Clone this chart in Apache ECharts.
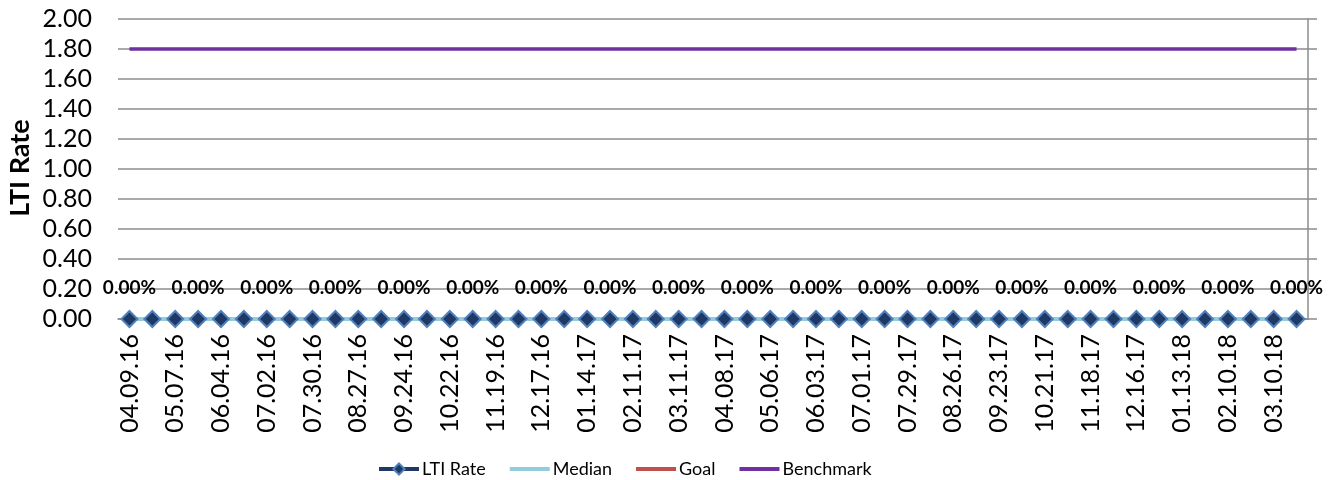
<!DOCTYPE html>
<html><head><meta charset="utf-8">
<script src="https://cdn.jsdelivr.net/npm/echarts@6/dist/echarts.min.js"></script>
<style>html,body{margin:0;padding:0;background:#fff}#c{width:1334px;height:480px}</style>
</head><body><div id="c"></div>
<script>
var categories = ['04.09.16','04.23.16','05.07.16','05.21.16','06.04.16','06.18.16','07.02.16','07.16.16','07.30.16','08.13.16','08.27.16','09.10.16','09.24.16','10.08.16','10.22.16','11.05.16','11.19.16','12.03.16','12.17.16','12.31.16','01.14.17','01.28.17','02.11.17','02.25.17','03.11.17','03.25.17','04.08.17','04.22.17','05.06.17','05.20.17','06.03.17','06.17.17','07.01.17','07.15.17','07.29.17','08.12.17','08.26.17','09.09.17','09.23.17','10.07.17','10.21.17','11.04.17','11.18.17','12.02.17','12.16.17','12.30.17','01.13.18','01.27.18','02.10.18','02.24.18','03.10.18','03.24.18'];
var ltiRate = [0,0,0,0,0,0,0,0,0,0,0,0,0,0,0,0,0,0,0,0,0,0,0,0,0,0,0,0,0,0,0,0,0,0,0,0,0,0,0,0,0,0,0,0,0,0,0,0,0,0,0,0];
var median = [0,0,0,0,0,0,0,0,0,0,0,0,0,0,0,0,0,0,0,0,0,0,0,0,0,0,0,0,0,0,0,0,0,0,0,0,0,0,0,0,0,0,0,0,0,0,0,0,0,0,0,0];
var goal = [];
var benchmark = [1.8,1.8,1.8,1.8,1.8,1.8,1.8,1.8,1.8,1.8,1.8,1.8,1.8,1.8,1.8,1.8,1.8,1.8,1.8,1.8,1.8,1.8,1.8,1.8,1.8,1.8,1.8,1.8,1.8,1.8,1.8,1.8,1.8,1.8,1.8,1.8,1.8,1.8,1.8,1.8,1.8,1.8,1.8,1.8,1.8,1.8,1.8,1.8,1.8,1.8,1.8,1.8];
var yTicks = {min: 0, max: 2, interval: 0.2};
var labelEvery = 3;

var FONT = 'Lato';
var GRID = '#8c8c8c';
var chart = echarts.init(document.getElementById('c'), null, {renderer: 'canvas'});
chart.setOption({
  animation: false,
  textStyle: {fontFamily: FONT},
  grid: {left: 118, right: 26, top: 19, bottom: 161, containLabel: false},
  graphic: [{
    type: 'text', x: 20, y: 168, rotation: Math.PI / 2,
    style: {text: 'LTI Rate', fontFamily: FONT, fontWeight: 'bold', fontSize: 27, fill: '#000', align: 'center', verticalAlign: 'middle'}
  }],
  legend: {
    left: 377, top: 460, padding: 0, itemWidth: 40, itemHeight: 14, itemGap: 22,
    textStyle: {fontFamily: FONT, fontSize: 18, color: '#000', padding: [0, 0, 0, -2]},
    data: [
      {name: 'LTI Rate', lineStyle: {width: 4}},
      {name: 'Median', itemStyle: {opacity: 0}, lineStyle: {width: 4}},
      {name: 'Goal', itemStyle: {opacity: 0}, lineStyle: {width: 4}},
      {name: 'Benchmark', itemStyle: {opacity: 0}, lineStyle: {width: 4}}
    ]
  },
  xAxis: {
    type: 'category', data: categories, boundaryGap: true,
    axisLine: {show: true, lineStyle: {color: GRID, width: 1.5}},
    axisTick: {show: false},
    axisLabel: {interval: 1, rotate: 90, margin: 15, fontFamily: FONT, fontSize: 25, color: '#000'}
  },
  yAxis: [{
    type: 'value', position: 'left', min: yTicks.min, max: yTicks.max, interval: yTicks.interval,
    axisLine: {show: false}, axisTick: {show: false},
    axisLabel: {margin: 26, fontFamily: FONT, fontSize: 25, color: '#000', formatter: function (v) { return v.toFixed(2); }},
    splitLine: {show: true, lineStyle: {color: GRID, width: 1.5}}
  }, {
    type: 'value', position: 'right', min: yTicks.min, max: yTicks.max, interval: yTicks.interval,
    axisLine: {show: true, lineStyle: {color: GRID, width: 1.5}},
    axisTick: {show: true, inside: false, length: 9, lineStyle: {color: GRID, width: 1.5}},
    axisLabel: {show: false}, splitLine: {show: false}
  }],
  series: [{
    name: 'LTI Rate', type: 'line', data: ltiRate, yAxisIndex: 0,
    symbol: 'diamond', symbolSize: 16, showAllSymbol: true,
    lineStyle: {color: '#1F3864', width: 2.5},
    itemStyle: {color: '#1F3864', borderColor: '#4F81BD', borderWidth: 2},
    label: {
      show: true, position: 'top', distance: 13, fontFamily: FONT, fontWeight: 'bold', fontSize: 19, color: '#000',
      formatter: function (p) { return p.dataIndex % labelEvery === 0 ? (p.value * 100).toFixed(2) + '%' : ''; }
    }
  }, {
    name: 'Median', type: 'line', data: median, symbol: 'none',
    lineStyle: {color: '#93CDDD', width: 4}, itemStyle: {color: '#93CDDD'}
  }, {
    name: 'Goal', type: 'line', data: goal, symbol: 'none',
    lineStyle: {color: '#C0504D', width: 4}, itemStyle: {color: '#C0504D'}
  }, {
    name: 'Benchmark', type: 'line', data: benchmark, symbol: 'none',
    lineStyle: {color: '#7030A0', width: 3.5}, itemStyle: {color: '#7030A0'}
  }]
});
</script></body></html>
